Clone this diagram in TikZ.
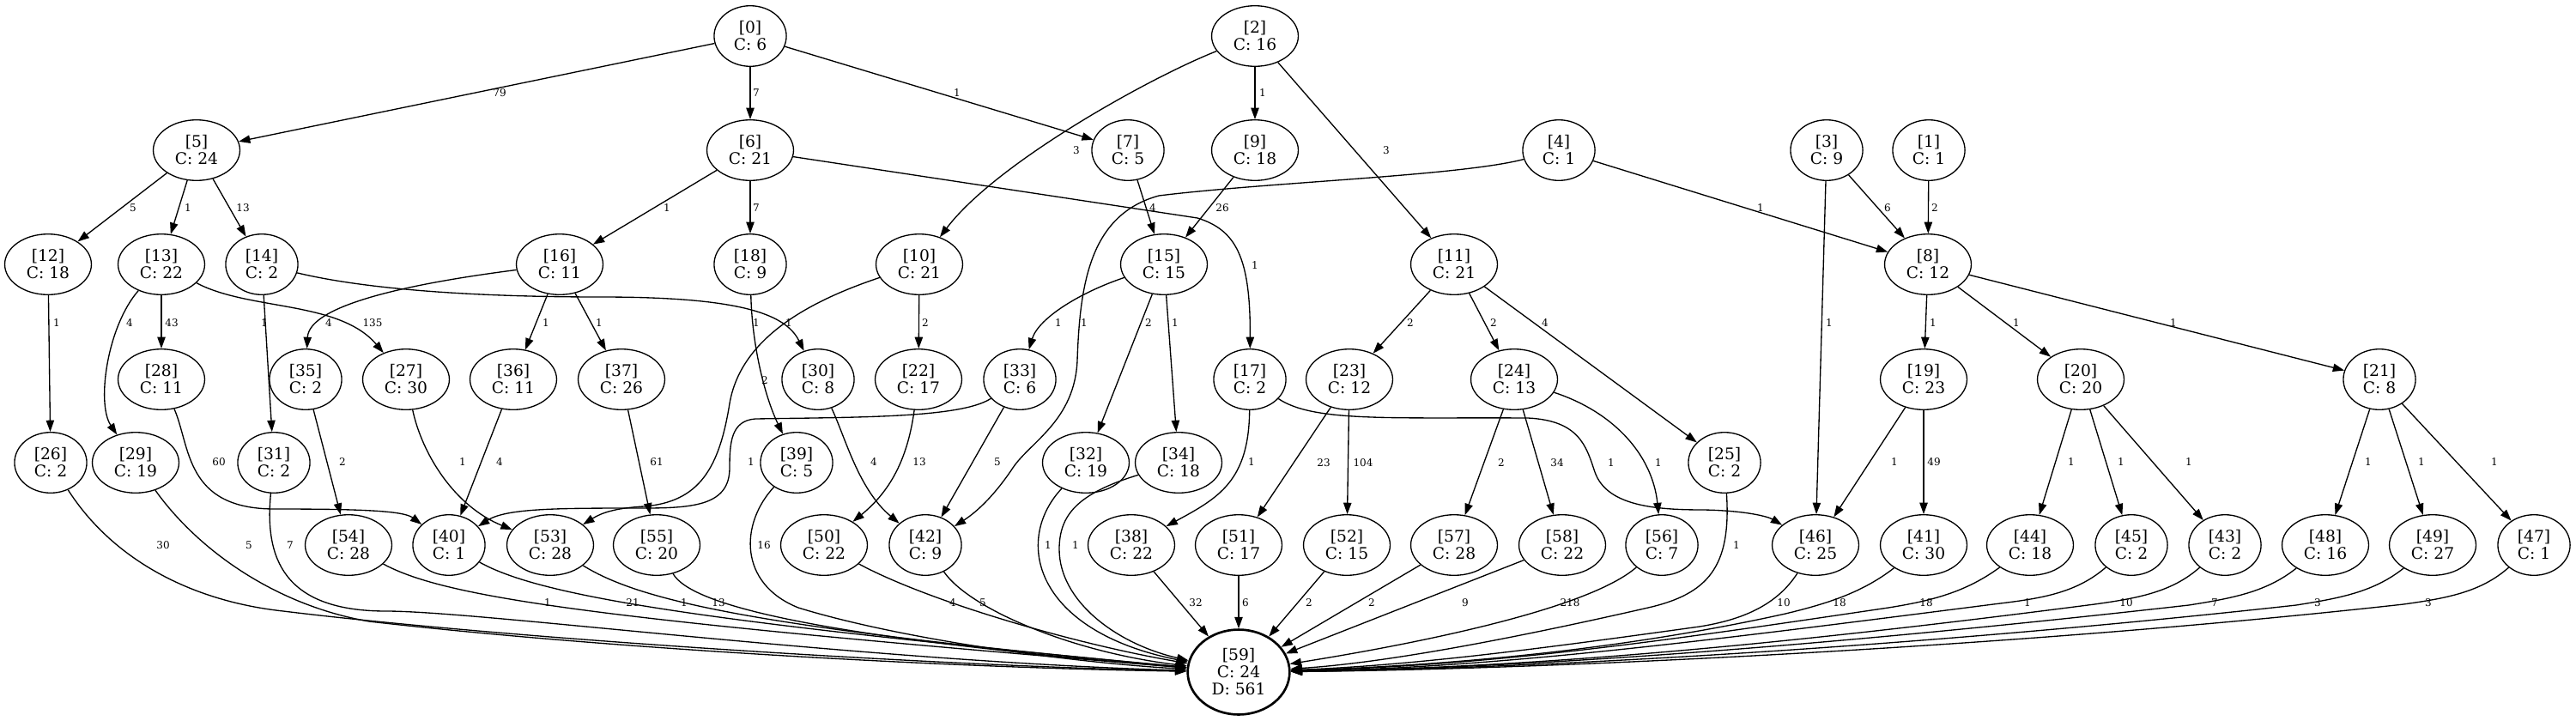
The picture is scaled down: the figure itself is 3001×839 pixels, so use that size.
\documentclass[tikz,border=0pt]{standalone}
\usepackage{fontspec}
\setmainfont{DejaVu Serif}
\usepackage{tikz}
\usetikzlibrary{arrows.meta, shapes.geometric}

\newcommand\gvnodefont{\fontsize{14pt}{15pt}\selectfont}
\newcommand\gvlblfont{\fontsize{9pt}{10pt}\selectfont}

\begin{document}
\begin{tikzpicture}[
  x=0.75pt, y=-0.75pt,
  cnode/.style={draw, ellipse, line width=1pt, inner xsep=7.92pt, inner ysep=5.8pt,
                align=center, font=\gvnodefont},
  sink/.style={cnode, line width=2pt},
  arr/.style={-{Triangle[length=10pt,width=7pt]}, line width=1pt},
  lbl/.style={font=\gvlblfont, inner sep=0pt},
]
\useasboundingbox (0,0) rectangle (3001,839);

% rank 0
\node[cnode] (n0) at (874,42) {[0]\\C: 6};
\node[cnode] (n2) at (1462,42) {[2]\\C: 16};
% rank 1
\node[cnode] (n5) at (229,175) {[5]\\C: 24};
\node[cnode] (n6) at (874,175) {[6]\\C: 21};
\node[cnode] (n7) at (1314,175) {[7]\\C: 5};
\node[cnode] (n9) at (1462,175) {[9]\\C: 18};
\node[cnode] (n4) at (1816,175) {[4]\\C: 1};
\node[cnode] (n3) at (2128,175) {[3]\\C: 9};
\node[cnode] (n1) at (2247,175) {[1]\\C: 1};
% rank 2
\node[cnode] (n12) at (56,308) {[12]\\C: 18};
\node[cnode] (n13) at (188,308) {[13]\\C: 22};
\node[cnode] (n14) at (305,308) {[14]\\C: 2};
\node[cnode] (n16) at (652,308) {[16]\\C: 11};
\node[cnode] (n18) at (874,308) {[18]\\C: 9};
\node[cnode] (n10) at (1071,308) {[10]\\C: 21};
\node[cnode] (n15) at (1356,308) {[15]\\C: 15};
\node[cnode] (n11) at (1694,308) {[11]\\C: 21};
\node[cnode] (n8) at (2246,308) {[8]\\C: 12};
% rank 3
\node[cnode] (n28) at (188,442) {[28]\\C: 11};
\node[cnode] (n35) at (356,442) {[35]\\C: 2};
\node[cnode] (n27) at (473,442) {[27]\\C: 30};
\node[cnode] (n36) at (598,442) {[36]\\C: 11};
\node[cnode] (n37) at (724,442) {[37]\\C: 26};
\node[cnode] (n30) at (953,442) {[30]\\C: 8};
\node[cnode] (n22) at (1070,442) {[22]\\C: 17};
\node[cnode] (n33) at (1188,442) {[33]\\C: 6};
\node[cnode] (n17) at (1456,442) {[17]\\C: 2};
\node[cnode] (n23) at (1572,442) {[23]\\C: 12};
\node[cnode] (n24) at (1764,442) {[24]\\C: 13};
\node[cnode] (n19) at (2241,442) {[19]\\C: 23};
\node[cnode] (n20) at (2424,442) {[20]\\C: 20};
\node[cnode] (n21) at (2772,442) {[21]\\C: 8};
% half rank
\node[cnode] (n26) at (59,539) {[26]\\C: 2};
\node[cnode] (n29) at (158,539) {[29]\\C: 19};
\node[cnode] (n31) at (319,539) {[31]\\C: 2};
\node[cnode] (n39) at (928,539) {[39]\\C: 5};
\node[cnode] (n32) at (1265,539) {[32]\\C: 19};
\node[cnode] (n34) at (1373,539) {[34]\\C: 18};
\node[cnode] (n25) at (2009,539) {[25]\\C: 2};
% rank 4
\node[cnode] (n54) at (406,635) {[54]\\C: 28};
\node[cnode] (n40) at (523,635) {[40]\\C: 1};
\node[cnode] (n53) at (641,635) {[53]\\C: 28};
\node[cnode] (n55) at (765,635) {[55]\\C: 20};
\node[cnode] (n50) at (960,635) {[50]\\C: 22};
\node[cnode] (n42) at (1078,635) {[42]\\C: 9};
\node[cnode] (n38) at (1318,635) {[38]\\C: 22};
\node[cnode] (n51) at (1443,635) {[51]\\C: 17};
\node[cnode] (n52) at (1569,635) {[52]\\C: 15};
\node[cnode] (n57) at (1694,635) {[57]\\C: 28};
\node[cnode] (n58) at (1820,635) {[58]\\C: 22};
\node[cnode] (n56) at (1936,635) {[56]\\C: 7};
\node[cnode] (n46) at (2115,635) {[46]\\C: 25};
\node[cnode] (n41) at (2241,635) {[41]\\C: 30};
\node[cnode] (n44) at (2365,635) {[44]\\C: 18};
\node[cnode] (n45) at (2483,635) {[45]\\C: 2};
\node[cnode] (n43) at (2592,635) {[43]\\C: 2};
\node[cnode] (n48) at (2709,635) {[48]\\C: 16};
\node[cnode] (n49) at (2834,635) {[49]\\C: 27};
\node[cnode] (n47) at (2952,635) {[47]\\C: 1};
% sink
\node[sink] (n59) at (1443,783) {[59]\\C: 24\\D: 561};

% edges out of the top ranks
\draw[arr] (n0) -- (n5) node[lbl] at (582,108) {79};
\draw[arr] (n0) -- (n6) node[lbl] at (881,108) {7};
\draw[arr] (n0) -- (n7) node[lbl] at (1115,108) {1};
\draw[arr] (n2) .. controls (1340,90) and (1160,190) .. (n10) node[lbl] at (1254,175) {3};
\draw[arr] (n2) -- (n9) node[lbl] at (1471,108) {1};
\draw[arr] (n2) -- (n11) node[lbl] at (1615,175) {3};
\draw[arr] (n4) .. controls (1700,205) and (1480,212) .. (1350,228)
  .. controls (1270,250) and (1258,330) .. (1255,420)
  .. controls (1252,490) and (1200,515) .. (1180,545)
  .. controls (1160,575) and (1140,595) .. (n42) node[lbl] at (1263,376) {1};
\draw[arr] (n4) -- (n8) node[lbl] at (2051,242) {1};
\draw[arr] (n3) -- (n8) node[lbl] at (2199,242) {6};
\draw[arr] (n3) -- (n46) node[lbl] at (2131,376) {1};
\draw[arr] (n1) -- (n8) node[lbl] at (2254,242) {2};
\draw[arr] (n5) -- (n12) node[lbl] at (155,242) {5};
\draw[arr] (n5) -- (n13) node[lbl] at (219,242) {1};
\draw[arr] (n5) -- (n14) node[lbl] at (283,242) {13};
\draw[arr] (n6) -- (n16) node[lbl] at (777,242) {1};
\draw[arr] (n6) -- (n18) node[lbl] at (881,242) {7};
\draw[arr] (n6) -- (1395,254) .. controls (1440,268) and (1457,300) .. (n17)
  node[lbl] at (1462,309) {1};
\draw[arr] (n7) -- (n15) node[lbl] at (1343,242) {4};
\draw[arr] (n9) -- (n15) node[lbl] at (1424,242) {26};

% rank 2 to lower ranks
\draw[arr] (n12) -- (n26) node[lbl] at (66,376) {1};
\draw[arr] (n13) .. controls (125,380) and (112,470) .. (n29) node[lbl] at (151,376) {4};
\draw[arr] (n13) -- (n28) node[lbl] at (200,376) {43};
\draw[arr] (n13) .. controls (290,362) and (395,350) .. (n27) node[lbl] at (434,376) {135};
\draw[arr] (n14) -- (n31) node[lbl] at (308,376) {1};
\draw[arr] (n14) .. controls (430,338) and (560,346) .. (700,346)
  .. controls (860,346) and (915,365) .. (n30) node[lbl] at (919,376) {1};
\draw[arr] (n16) .. controls (480,330) and (360,355) .. (n35) node[lbl] at (383,376) {4};
\draw[arr] (n16) -- (n36) node[lbl] at (636,376) {1};
\draw[arr] (n16) -- (n37) node[lbl] at (698,376) {1};
\draw[arr] (n18) .. controls (876,400) and (890,460) .. (n39) node[lbl] at (881,376) {1};
\draw[arr] (n10) -- (n22) node[lbl] at (1078,376) {2};
\draw[arr] (n10) .. controls (930,355) and (862,400) .. (850,470)
  .. controls (838,545) and (815,585) .. (750,590)
  .. controls (715,592) and (700,598) .. (n53) node[lbl] at (891,443) {2};
\draw[arr] (n15) .. controls (1260,340) and (1210,370) .. (n33) node[lbl] at (1233,376) {1};
\draw[arr] (n15) -- (n32) node[lbl] at (1338,376) {2};
\draw[arr] (n15) -- (n34) node[lbl] at (1369,376) {1};
\draw[arr] (n11) -- (n23) node[lbl] at (1643,376) {2};
\draw[arr] (n11) -- (n24) node[lbl] at (1740,376) {2};
\draw[arr] (n11) -- (n25) node[lbl] at (1800,376) {4};
\draw[arr] (n8) -- (n19) node[lbl] at (2252,376) {1};
\draw[arr] (n8) -- (n20) node[lbl] at (2349,376) {1};
\draw[arr] (n8) -- (n21) node[lbl] at (2532,376) {1};

% rank 3 to lower ranks
\draw[arr] (n28) .. controls (222,520) and (215,593) .. (320,593)
  .. controls (420,593) and (470,595) .. (n40) node[lbl] at (255,538) {60};
\draw[arr] (n35) -- (n54) node[lbl] at (399,538) {2};
\draw[arr] (n27) .. controls (492,530) and (530,590) .. (n53) node[lbl] at (539,538) {1};
\draw[arr] (n36) -- (n40) node[lbl] at (582,538) {4};
\draw[arr] (n37) -- (n55) node[lbl] at (765,538) {61};
\draw[arr] (n33) .. controls (1120,487) and (1000,486) .. (880,488)
  .. controls (852,490) and (850,515) .. (850,545)
  .. controls (850,588) and (810,592) .. (750,592)
  .. controls (650,592) and (590,592) .. (n40) node[lbl] at (875,538) {1};
\draw[arr] (n30) .. controls (985,510) and (1000,570) .. (n42) node[lbl] at (1018,538) {4};
\draw[arr] (n22) .. controls (1058,530) and (1040,570) .. (n50) node[lbl] at (1071,538) {13};
\draw[arr] (n33) -- (n42) node[lbl] at (1162,538) {5};
\draw[arr] (n17) .. controls (1455,560) and (1420,580) .. (n38) node[lbl] at (1458,538) {1};
\draw[arr] (n17) .. controls (1530,492) and (1620,486) .. (1780,487)
  .. controls (1840,490) and (1848,520) .. (1858,550)
  .. controls (1872,590) and (1930,594) .. (1985,594)
  .. controls (2035,595) and (2060,602) .. (n46) node[lbl] at (1877,539) {1};
\draw[arr] (n23) -- (n51) node[lbl] at (1542,539) {23};
\draw[arr] (n23) -- (n52) node[lbl] at (1588,539) {104};
\draw[arr] (n24) -- (n57) node[lbl] at (1749,539) {2};
\draw[arr] (n24) -- (n58) node[lbl] at (1814,539) {34};
\draw[arr] (n24) .. controls (1880,480) and (1925,530) .. (n56) node[lbl] at (1932,539) {1};
\draw[arr] (n19) -- (n46) node[lbl] at (2207,538) {1};
\draw[arr] (n19) -- (n41) node[lbl] at (2253,538) {49};
\draw[arr] (n20) -- (n44) node[lbl] at (2413,538) {1};
\draw[arr] (n20) -- (n45) node[lbl] at (2471,538) {1};
\draw[arr] (n20) -- (n43) node[lbl] at (2550,538) {1};
\draw[arr] (n21) -- (n48) node[lbl] at (2759,538) {1};
\draw[arr] (n21) -- (n49) node[lbl] at (2821,538) {1};
\draw[arr] (n21) -- (n47) node[lbl] at (2906,538) {1};

% everything into the sink, left side
\draw[arr] (n26) .. controls (130,650) and (220,700) .. (330,712)
  .. controls (600,745) and (1100,776) .. (n59) node[lbl] at (190,635) {30};
\draw[arr] (n29) .. controls (230,640) and (320,705) .. (430,724)
  .. controls (700,755) and (1100,778) .. (n59) node[lbl] at (290,635) {5};
\draw[arr] (n31) .. controls (308,650) and (330,712) .. (450,712)
  .. controls (560,712) and (1000,770) .. (n59) node[lbl] at (338,635) {7};
\draw[arr] (n54) .. controls (520,697) and (700,722) .. (n59) node[lbl] at (638,702) {1};
\draw[arr] (n40) .. controls (630,695) and (820,725) .. (n59) node[lbl] at (737,702) {21};
\draw[arr] (n53) .. controls (750,703) and (900,733) .. (n59) node[lbl] at (797,702) {1};
\draw[arr] (n55) .. controls (805,705) and (950,742) .. (n59) node[lbl] at (837,702) {13};
\draw[arr] (n39) .. controls (862,610) and (860,680) .. (930,708)
  .. controls (1050,745) and (1250,772) .. (n59) node[lbl] at (890,635) {16};
\draw[arr] (n50) .. controls (1080,700) and (1250,750) .. (n59) node[lbl] at (1110,702) {4};
\draw[arr] (n42) .. controls (1130,710) and (1250,760) .. (n59) node[lbl] at (1145,702) {5};
\draw[arr] (n32) .. controls (1180,630) and (1205,735) .. (n59) node[lbl] at (1221,635) {1};
\draw[arr] (n34) .. controls (1255,575) and (1234,600) .. (1234,640)
  .. controls (1234,700) and (1300,750) .. (n59) node[lbl] at (1253,635) {1};
% middle
\draw[arr] (n38) -- (n59) node[lbl] at (1393,702) {32};
\draw[arr] (n51) -- (n59) node[lbl] at (1451,702) {6};
\draw[arr] (n52) -- (n59) node[lbl] at (1525,702) {2};
\draw[arr] (n57) -- (n59) node[lbl] at (1598,702) {2};
\draw[arr] (n58) -- (n59) node[lbl] at (1707,702) {9};
\draw[arr] (n56) .. controls (1850,710) and (1650,750) .. (n59) node[lbl] at (1829,702) {218};
% right side
\draw[arr] (n25) .. controls (2017,660) and (1990,692) .. (1920,708)
  .. controls (1780,740) and (1620,772) .. (n59) node[lbl] at (2023,635) {1};
\draw[arr] (n46) .. controls (2070,705) and (2030,722) .. (1980,730)
  .. controls (1800,755) and (1650,775) .. (n59) node[lbl] at (2078,702) {10};
\draw[arr] (n41) .. controls (2170,690) and (2130,703) .. (2080,715)
  .. controls (1900,755) and (1700,775) .. (n59) node[lbl] at (2143,702) {18};
\draw[arr] (n44) .. controls (2290,690) and (2250,700) .. (2200,708)
  .. controls (1950,745) and (1750,775) .. (n59) node[lbl] at (2244,702) {18};
\draw[arr] (n45) .. controls (2420,690) and (2380,697) .. (2330,703)
  .. controls (2000,745) and (1750,778) .. (n59) node[lbl] at (2362,702) {1};
\draw[arr] (n43) .. controls (2530,690) and (2490,697) .. (2440,704)
  .. controls (2100,748) and (1800,778) .. (n59) node[lbl] at (2477,702) {10};
\draw[arr] (n48) .. controls (2640,690) and (2600,697) .. (2550,705)
  .. controls (2150,750) and (1800,778) .. (n59) node[lbl] at (2580,702) {7};
\draw[arr] (n49) .. controls (2765,690) and (2725,697) .. (2675,705)
  .. controls (2250,752) and (1800,779) .. (n59) node[lbl] at (2700,702) {3};
\draw[arr] (n47) .. controls (2890,690) and (2850,697) .. (2800,704)
  .. controls (2350,754) and (1800,780) .. (n59) node[lbl] at (2829,702) {3};
\end{tikzpicture}
\end{document}
